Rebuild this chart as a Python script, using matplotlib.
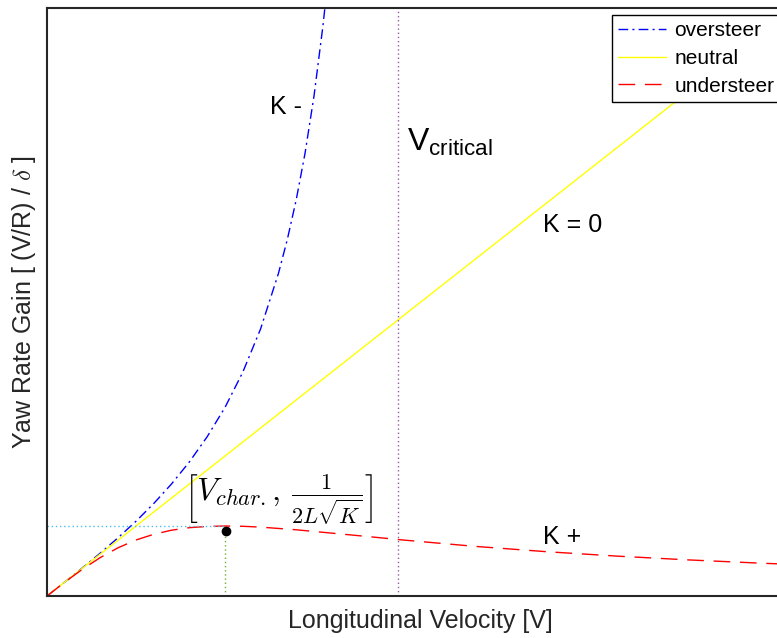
import numpy as np
import matplotlib
matplotlib.use("Agg")
import matplotlib.pyplot as plt

plt.rcParams['font.family'] = ['Liberation Sans', 'DejaVu Sans']
plt.rcParams['mathtext.fontset'] = 'cm'

# yaw rate gain vs speed for the three steering cases
v_over = [0, 1, 2, 3, 4, 5, 6, 7, 8, 9, 10, 11, 12, 13, 13.5, 14, 14.5, 15, 15.5, 15.7]
g_over = [0, 1.00, 2.02, 3.07, 4.17, 5.34, 6.61, 8.01, 9.58, 11.38, 13.47, 15.99,
          19.08, 23.03, 25.46, 28.29, 31.65, 35.71, 40.70, 43.05]

v_neutral = [0, 44]
g_neutral = [0, 44]

v_under = [0, 1, 2, 3, 4, 5, 6, 7, 8, 9, 10, 11, 12, 14, 16, 18, 20, 24, 28, 32, 36, 40, 42, 44]
g_under = [0, 0.99, 1.92, 2.75, 3.45, 4.00, 4.41, 4.70, 4.88, 4.97, 5.00, 4.98, 4.92,
           4.73, 4.49, 4.25, 4.00, 3.55, 3.17, 2.85, 2.58, 2.35, 2.25, 2.16]

v_char = 10.0
g_char = 5.0
v_crit = 19.7
dot = (10.05, 4.65)

fig = plt.figure(figsize=(7.77, 6.38), dpi=100)
ax = fig.add_axes([47 / 777, 42 / 638, 747.6 / 777, 588 / 638])

ax.plot(v_over, g_over, color='#0000ff', lw=1.0, ls=(0, (7, 3, 1.5, 3)), label='oversteer')
ax.plot(v_neutral, g_neutral, color='#ffff00', lw=1.0, ls='-', label='neutral')
ax.plot(v_under, g_under, color='#ff0000', lw=1.0, ls=(0, (12, 7)), label='understeer')

ax.plot([v_crit, v_crit], [0, 42], color='#7e2f8e', lw=1.0, ls=(0, (1, 2)), alpha=0.8)
ax.plot([v_char, v_char], [0, g_char], color='#77ac30', lw=1.0, ls=(0, (1, 2)))
ax.plot([0, v_char], [g_char, g_char], color='#4dbeee', lw=1.0, ls=(0, (1, 2)))
ax.plot(dot[0], dot[1], 'o', color='black', markersize=6)

ax.text(12.53, 34.9, 'K -', fontsize=18, ha='left', va='center')
ax.text(27.87, 26.5, 'K = 0', fontsize=18, ha='left', va='center')
ax.text(27.87, 4.22, 'K +', fontsize=18, ha='left', va='center')
ax.text(20.22, 31.76, r'$\mathregular{V_{critical}}$', fontsize=23, ha='left', va='baseline')
ax.text(7.7, 6.85, r'$\left[V_{char.},\, \frac{1}{2L\sqrt{K}}\right]$', fontsize=23,
        ha='left', va='center')

ax.set_xlim(0, 42)
ax.set_ylim(0, 42)
ax.set_xticks([])
ax.set_yticks([])
for s in ax.spines.values():
    s.set_linewidth(1.5)
    s.set_color('#262626')

ax.set_xlabel('Longitudinal Velocity [V]', fontsize=18, color='#262626')
ax.set_ylabel(r'Yaw Rate Gain [ (V/R) / $\delta$ ]', fontsize=18, color='#262626')
ax.xaxis.set_label_coords(0.5, -0.022)
ax.yaxis.set_label_coords(-0.012, 0.5)

leg = ax.legend(loc='upper left', bbox_to_anchor=(612 / 777, 1 - 15 / 638),
                bbox_transform=fig.transFigure, fontsize=15, frameon=True,
                fancybox=False, framealpha=1, edgecolor='black', handlelength=2.3,
                borderpad=0.3, labelspacing=0.42, handletextpad=0.4, borderaxespad=0)
leg.get_frame().set_linewidth(1.0)

fig.savefig('out.png', dpi=100)
